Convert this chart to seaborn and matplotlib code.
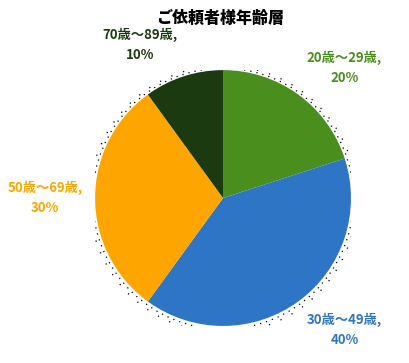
import matplotlib
matplotlib.use("Agg")
import matplotlib.pyplot as plt
import seaborn as sns
from matplotlib.patches import Circle

# data
labels = ["20歳～29歳", "30歳～49歳", "50歳～69歳", "70歳～89歳"]
shares = [20, 40, 30, 10]
colors = ["#4a8e1e", "#2e75c6", "#ffa500", "#1b3a10"]

sns.set_theme(style="white")
plt.rcParams['font.family'] = ['Noto Sans CJK JP', 'DejaVu Sans']

fig = plt.figure(figsize=(4.10, 3.63), dpi=100)
ax = fig.add_axes([0.232, 0.102, 0.624, 0.705])

# dotted soft shadow around the pie
ax.add_patch(Circle((0.0, -0.005), 1.02, facecolor="none", edgecolor="black",
                    linestyle=(0, (1, 4)), linewidth=0.9, zorder=0))
ax.add_patch(Circle((0.0, -0.01), 1.045, facecolor="none", edgecolor="black",
                    linestyle=(2.5, (1, 9)), linewidth=0.9, zorder=0))

wedges, _ = ax.pie(shares, colors=colors, startangle=90, counterclock=False,
                   radius=1.0, wedgeprops=dict(linewidth=0))

# label positions (data coords), one per slice
label_pos = [(0.95, 1.02), (0.95, -1.03), (-1.39, 0.0), (-0.65, 1.2)]
for lab, val, col, (x, y) in zip(labels, shares, colors, label_pos):
    ax.text(x, y, f"{lab},\n{val}%", color=col, fontsize=9.5, fontweight="semibold",
            ha="center", va="center", linespacing=1.55)

ax.set_xlim(-1, 1)
ax.set_ylim(-1, 1)
ax.set_aspect("equal")
ax.axis("off")

fig.text(0.537, 0.95, "ご依頼者様年齢層", ha="center", va="center",
         fontsize=11.5, fontweight="black", color="black")

fig.savefig("out.png", dpi=100)
